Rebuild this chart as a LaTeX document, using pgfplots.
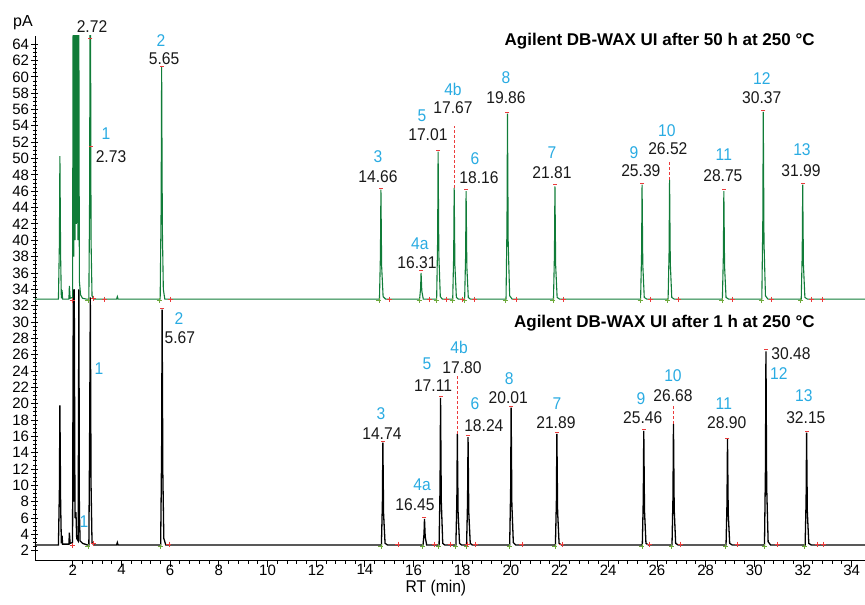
\documentclass[border=0pt]{standalone}
\usepackage{pgfplots}
\pgfplotsset{compat=1.18}
\usepackage{fontspec}
\setmainfont{Liberation Sans}
\newfontfamily\condfont[FakeStretch=0.92]{Liberation Sans}
\definecolor{trgreen}{RGB}{16,124,56}
\definecolor{lblue}{RGB}{41,171,226}
\definecolor{mkred}{RGB}{235,60,60}
\definecolor{mkgreen}{RGB}{110,170,60}
\tikzset{
  rt/.style={font=\condfont\fontsize{17}{17}\selectfont, inner sep=0pt, text=black!90},
  cn/.style={rt, text=lblue},
}
\begin{document}
\begin{tikzpicture}
\useasboundingbox (0,0) rectangle (865pt,605pt);
\begin{axis}[
  at={(35pt,45pt)}, anchor=south west,
  scale only axis, width=830pt, height=524pt,
  xmin=0.447, xmax=34.55, ymin=0.86, ymax=65,
  axis x line*=bottom, axis y line*=left,
  clip mode=individual,
  xtick={2,4,...,34}, minor x tick num=4,
  ytick={2,4,...,64}, minor y tick num=3,
  x tick style={black, line width=0.8pt},
  y tick style={black, line width=0.8pt},
  xtick align=outside, ytick align=center,
  major tick length=7pt, minor tick length=4pt,
  ticklabel style={font=\fontsize{15}{15}\selectfont},
  xticklabel style={yshift=6pt},
  yticklabel style={xshift=1pt},
  /pgf/number format/assume math mode=true,
  axis line style={line width=0.9pt},
]
% ---- black trace (after 1 h)
\addplot[black, line width=1.3pt] coordinates {
(0.447,2.7)(1.41,2.7)(1.45,9.5)(1.47,19.8)(1.50,7.8)(1.53,2.9)(1.56,3.85)(1.58,2.8)(1.84,2.8)(1.86,4.2)(1.89,2.9)
(1.99,3.0)(2.02,34)(2.04,8)(2.06,34)(2.09,6)(2.13,6.7)(2.16,3.5)(2.22,3.2)(2.25,34)(2.27,7)(2.30,3.2)(2.40,2.9)(2.60,2.7)
(2.66,2.7)(2.69,15)(2.72,33)(2.75,10)(2.79,3.0)(2.86,2.7)
(3.80,2.7)(3.83,3.0)(3.86,2.7)
(5.61,2.7)(5.65,14.2)(5.67,31.5)(5.70,11.3)(5.74,3.5)(5.82,2.7)
(14.68,2.7)(14.72,7.7)(14.74,15.24)(14.77,6.5)(14.83,2.9)(14.93,2.7)
(16.39,2.7)(16.43,4.0)(16.45,5.9)(16.48,3.7)(16.54,2.7)
(17.05,2.7)(17.09,9.9)(17.11,20.7)(17.14,8.1)(17.20,2.9)(17.28,2.7)
(17.74,2.7)(17.78,8.1)(17.80,16.3)(17.83,6.8)(17.89,2.9)(17.97,2.7)
(18.18,2.7)(18.22,8.0)(18.24,15.9)(18.27,6.7)(18.33,2.9)(18.41,2.7)
(19.95,2.7)(19.99,9.4)(20.01,19.5)(20.04,7.7)(20.10,3.0)(20.20,2.7)
(21.83,2.7)(21.87,8.1)(21.89,16.3)(21.92,6.8)(21.98,2.9)(22.08,2.7)
(25.40,2.7)(25.44,8.3)(25.46,16.65)(25.49,6.9)(25.55,2.9)(25.65,2.7)
(26.62,2.7)(26.66,8.6)(26.68,17.5)(26.71,7.1)(26.77,2.9)(26.87,2.7)
(28.84,2.7)(28.88,7.9)(28.90,15.65)(28.93,6.6)(28.99,2.9)(29.09,2.7)
(30.42,2.7)(30.46,12.2)(30.48,26.4)(30.51,9.8)(30.57,3.1)(30.67,2.7)
(32.09,2.7)(32.13,8.2)(32.15,16.45)(32.18,6.8)(32.24,2.9)(32.34,2.7)
(34.55,2.7)
};
% ---- green trace (after 50 h)
\addplot[trgreen, line width=1.1pt] coordinates {
(0.447,32.8)(1.41,32.8)(1.45,39.8)(1.47,50.3)(1.50,38.0)(1.53,32.9)(1.56,33.9)(1.58,32.8)(1.84,32.8)(1.86,34.4)(1.89,32.9)
(1.99,33.0)(2.02,80)(2.04,38)(2.06,80)(2.09,40)(2.12,80)(2.15,42)(2.18,80)(2.21,40)(2.24,80)(2.27,35)(2.32,33.3)(2.40,32.9)(2.55,32.8)
(2.66,32.8)(2.69,45)(2.72,80)(2.75,40)(2.79,33.2)(2.86,32.8)
(3.80,32.8)(3.83,33.1)(3.86,32.8)
(5.59,32.8)(5.63,44.2)(5.65,61.2)(5.68,41.3)(5.72,34.0)(5.78,32.8)
(14.60,32.8)(14.64,38.2)(14.66,46.2)(14.69,36.8)(14.75,33.1)(14.85,32.8)
(16.25,32.8)(16.29,34.1)(16.31,36.0)(16.34,33.8)(16.40,32.8)
(16.95,32.8)(16.99,40.0)(17.01,50.85)(17.04,38.2)(17.10,33.1)(17.18,32.8)
(17.61,32.8)(17.65,38.2)(17.67,46.4)(17.70,36.9)(17.76,33.0)(17.84,32.8)
(18.10,32.8)(18.14,38.1)(18.16,46.0)(18.19,36.8)(18.25,33.0)(18.33,32.8)
(19.80,32.8)(19.84,41.9)(19.86,55.5)(19.89,39.6)(19.95,33.2)(20.05,32.8)
(21.75,32.8)(21.79,38.3)(21.81,46.6)(21.84,36.9)(21.90,33.0)(22.00,32.8)
(25.33,32.8)(25.37,38.4)(25.39,46.8)(25.42,37.0)(25.48,33.0)(25.58,32.8)
(26.46,32.8)(26.50,38.6)(26.52,47.4)(26.55,37.2)(26.61,33.0)(26.71,32.8)
(28.69,32.8)(28.73,38.1)(28.75,46.0)(28.78,36.8)(28.84,33.0)(28.94,32.8)
(30.31,32.8)(30.35,42.0)(30.37,55.7)(30.40,39.7)(30.46,33.2)(30.56,32.8)
(31.93,32.8)(31.97,38.4)(31.99,46.8)(32.02,37.0)(32.08,33.0)(32.18,32.8)
(34.55,32.8)
};
% ---- integration markers
\addplot[only marks, mark=+, mark size=2.5pt, mkgreen, line width=0.6pt] coordinates {
(2.62,32.6)(5.57,32.6)(14.58,32.6)(16.23,32.6)(16.93,32.6)(17.59,32.6)(18.08,32.6)(19.78,32.6)(21.73,32.6)(25.31,32.6)(26.44,32.6)(28.67,32.6)(30.29,32.6)(31.91,32.6)
(2.62,2.5)(5.59,2.5)(14.66,2.5)(16.37,2.5)(17.03,2.5)(17.72,2.5)(18.16,2.5)(19.93,2.5)(21.81,2.5)(25.38,2.5)(26.60,2.5)(28.82,2.5)(30.40,2.5)(32.07,2.5)
};
\addplot[only marks, mark=+, mark size=2.5pt, mkred, line width=0.6pt] coordinates {
(1.97,32.6)(2.85,32.9)(3.30,32.8)(6.00,32.8)(15.01,32.8)(16.66,32.8)(17.36,32.8)(18.02,32.8)(18.51,32.8)(20.21,32.8)(22.16,32.8)(25.74,32.8)(26.87,32.8)(29.10,32.8)(30.72,32.8)(32.34,32.8)(32.80,32.8)
(1.97,2.6)(2.85,2.9)(5.95,2.8)(15.36,2.8)(16.85,2.8)(17.50,2.8)(18.20,2.8)(18.55,2.8)(20.45,2.8)(22.10,2.8)(25.70,2.8)(26.95,2.8)(29.30,2.8)(30.95,2.8)(32.60,2.8)(32.85,2.8)
};
\addplot[only marks, mark=-, mark size=2pt, mkred, line width=0.8pt] coordinates {
(2.72,64.7)(2.73,51.5)(5.65,61.3)(14.66,46.4)(16.31,36.3)(17.01,51.0)(18.16,46.2)(19.86,55.7)(21.81,46.8)(25.39,47.0)(28.75,46.2)(30.37,55.9)(31.99,47.0)
(5.67,31.7)(14.74,15.4)(16.45,6.1)(17.11,20.9)(18.24,16.1)(20.01,19.7)(21.89,16.5)(25.46,16.8)(28.90,15.8)(30.48,26.6)(32.15,16.6)
};
\addplot[mkred, densely dashed, line width=0.8pt] coordinates {(17.67,46.4)(17.67,54.0)};
\addplot[mkred, densely dashed, line width=0.8pt] coordinates {(26.52,47.4)(26.52,49.7)};
\addplot[mkred, densely dashed, line width=0.8pt] coordinates {(17.80,16.3)(17.80,23.4)};
\addplot[mkred, densely dashed, line width=0.8pt] coordinates {(26.68,17.5)(26.68,19.8)};
% ---- titles
\node[anchor=east, font=\bfseries\fontsize{17}{17}\selectfont, inner sep=0pt] at (axis cs:32.49,64.4) {Agilent DB-WAX UI after 50 h at 250 °C};
\node[anchor=east, font=\bfseries\fontsize{17}{17}\selectfont, inner sep=0pt] at (axis cs:32.49,29.9) {Agilent DB-WAX UI after 1 h at 250 °C};
\node[font=\fontsize{16}{16}\selectfont, inner sep=0pt] at (axis cs:-0.05,66.6) {pA};
\node[font=\condfont\fontsize{17}{17}\selectfont, inner sep=0pt] at (axis cs:16.92,-2.55) {RT (min)};
% ---- green labels
\node[rt] at (axis cs:2.79,66.1) {2.72};
\node[cn] at (axis cs:3.36,53.1) {1};
\node[rt] at (axis cs:3.57,50.2) {2.73};
\node[cn] at (axis cs:5.62,64.4) {2};
\node[rt] at (axis cs:5.75,62.2) {5.65};
\node[cn] at (axis cs:14.54,50.2) {3};
\node[rt] at (axis cs:14.54,47.8) {14.66};
\node[cn] at (axis cs:16.26,39.6) {4a};
\node[rt] at (axis cs:16.14,37.3) {16.31};
\node[cn] at (axis cs:16.35,55.2) {5};
\node[rt] at (axis cs:16.59,52.9) {17.01};
\node[cn] at (axis cs:17.62,58.5) {4b};
\node[rt] at (axis cs:17.62,56.2) {17.67};
\node[cn] at (axis cs:18.52,50.0) {6};
\node[rt] at (axis cs:18.69,47.7) {18.16};
\node[cn] at (axis cs:19.80,59.9) {8};
\node[rt] at (axis cs:19.80,57.4) {19.86};
\node[cn] at (axis cs:21.69,50.7) {7};
\node[rt] at (axis cs:21.69,48.3) {21.81};
\node[cn] at (axis cs:25.06,50.7) {9};
\node[rt] at (axis cs:25.34,48.5) {25.39};
\node[cn] at (axis cs:26.41,53.4) {10};
\node[rt] at (axis cs:26.45,51.2) {26.52};
\node[cn] at (axis cs:28.75,50.5) {11};
\node[rt] at (axis cs:28.71,47.9) {28.75};
\node[cn] at (axis cs:30.31,59.8) {12};
\node[rt] at (axis cs:30.31,57.4) {30.37};
\node[cn] at (axis cs:31.96,51.1) {13};
\node[rt] at (axis cs:31.92,48.5) {31.99};
% ---- black labels
\node[cn] at (axis cs:6.36,30.43) {2};
\node[rt] at (axis cs:6.40,28.11) {5.67};
\node[cn] at (axis cs:3.08,24.32) {1};
\node[cn] at (axis cs:2.46,5.51) {1};
\node[cn] at (axis cs:14.66,18.83) {3};
\node[rt] at (axis cs:14.70,16.38) {14.74};
\node[cn] at (axis cs:16.35,10.03) {4a};
\node[rt] at (axis cs:16.06,7.59) {16.45};
\node[cn] at (axis cs:16.55,24.94) {5};
\node[rt] at (axis cs:16.80,22.25) {17.11};
\node[cn] at (axis cs:17.87,26.89) {4b};
\node[rt] at (axis cs:17.99,24.45) {17.80};
\node[cn] at (axis cs:18.52,20.05) {6};
\node[rt] at (axis cs:18.89,17.36) {18.24};
\node[cn] at (axis cs:19.93,23.11) {8};
\node[rt] at (axis cs:19.89,20.78) {20.01};
\node[cn] at (axis cs:21.89,20.05) {7};
\node[rt] at (axis cs:21.85,17.73) {21.89};
\node[cn] at (axis cs:25.34,20.66) {9};
\node[rt] at (axis cs:25.42,18.34) {25.46};
\node[cn] at (axis cs:26.66,23.47) {10};
\node[rt] at (axis cs:26.66,21.02) {26.68};
\node[cn] at (axis cs:28.75,20.05) {11};
\node[rt] at (axis cs:28.87,17.73) {28.90};
\node[rt] at (axis cs:31.51,26.16) {30.48};
\node[cn] at (axis cs:31.01,23.71) {12};
\node[cn] at (axis cs:32.04,21.02) {13};
\node[rt] at (axis cs:32.12,18.34) {32.15};
\end{axis}
\end{tikzpicture}
\end{document}
